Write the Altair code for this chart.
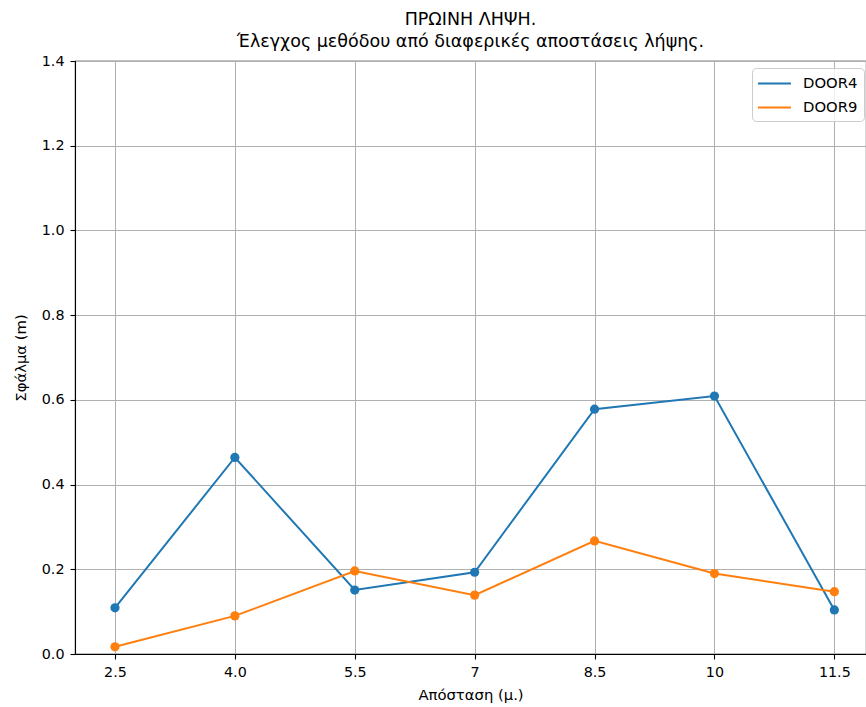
import altair as alt
import pandas as pd

# ---- data ----
distances = [2.5, 4.0, 5.5, 7.0, 8.5, 10.0, 11.5]
tick_labels = ["2.5", "4.0", "5.5", "7", "8.5", "10", "11.5"]
door4 = [0.109, 0.464, 0.151, 0.193, 0.578, 0.609, 0.104]
door9 = [0.017, 0.090, 0.196, 0.139, 0.267, 0.190, 0.147]
series_names = ["DOOR4", "DOOR9"]
series_colors = ["#1f77b4", "#ff7f0e"]
y_ticks = [0.0, 0.2, 0.4, 0.6, 0.8, 1.0, 1.2, 1.4]

rows = []
for name, vals in zip(series_names, [door4, door9]):
    for d, v in zip(distances, vals):
        rows.append({"dist": d, "err": v, "series": name})
df = pd.DataFrame(rows)

FONT = "DejaVu Sans"
W, H = 791, 593
x_domain = [2.0, 2.0 + W / 79.93]

label_expr = "[" + ",".join(f"'{l}'" for l in tick_labels) + "][indexof([" + \
    ",".join(str(d) for d in distances) + "], datum.value)]"

x_enc = alt.X(
    "dist:Q",
    scale=alt.Scale(domain=x_domain, nice=False, zero=False),
    axis=alt.Axis(
        values=distances,
        labelExpr=label_expr,
        title="Απόσταση (μ.)",
        grid=True,
    ),
)
y_enc = alt.Y(
    "err:Q",
    scale=alt.Scale(domain=[0, 1.4], nice=False),
    axis=alt.Axis(values=y_ticks, format=".1f", title="Σφάλμα (m)", grid=True),
)

base = alt.Chart(df)

lines = base.mark_line(strokeWidth=2).encode(
    x=x_enc,
    y=y_enc,
    color=alt.Color(
        "series:N",
        scale=alt.Scale(domain=series_names, range=series_colors),
        legend=alt.Legend(
            title=None,
            orient="none",
            legendX=677,
            legendY=7,
            symbolType="M-1.12,0H2.76",
            symbolSize=289,
            symbolStrokeWidth=2,
            labelFont=FONT,
            labelFontSize=14.8,
            labelColor="#000000",
            labelOffset=26,
            rowPadding=7,
            padding=6,
            fillColor="rgba(255,255,255,0.8)",
            strokeColor="#cccccc",
            cornerRadius=4,
        ),
    ),
    order=alt.Order("dist:Q"),
)

points = base.mark_circle(size=85, opacity=1).encode(
    x="dist:Q",
    y="err:Q",
    fill=alt.Fill(
        "series:N",
        scale=alt.Scale(domain=series_names, range=series_colors),
        legend=None,
    ),
)

chart = (
    alt.layer(lines, points)
    .properties(
        width=W,
        height=H,
        autosize=alt.AutoSizeParams(type="none"),
        padding={"left": 75, "top": 61, "right": 0, "bottom": 53},
        title=alt.TitleParams(
            text=["ΠΡΩΙΝΗ ΛΗΨΗ.", "Έλεγχος μεθόδου από διαφερικές αποστάσεις λήψης."],
            font=FONT,
            fontSize=17.5,
            fontWeight="normal",
            color="#000000",
            lineHeight=22,
            anchor="middle",
            offset=4,
        ),
    )
    .configure_view(stroke="#000000", strokeWidth=1.1)
    .configure_axis(
        labelFont=FONT,
        labelFontSize=14.3,
        labelColor="#000000",
        titleFont=FONT,
        titleFontSize=14.8,
        titleFontWeight="normal",
        titleColor="#000000",
        domainColor="#000000",
        domainWidth=1.1,
        tickColor="#000000",
        tickSize=5,
        tickWidth=1.1,
        gridColor="#b0b0b0",
        gridWidth=1,
    )
    .configure_axisX(labelPadding=6, titlePadding=8)
    .configure_axisY(labelPadding=6, titlePadding=13)
)

chart.save("out.html", embed_options={"renderer": "svg", "actions": False})
